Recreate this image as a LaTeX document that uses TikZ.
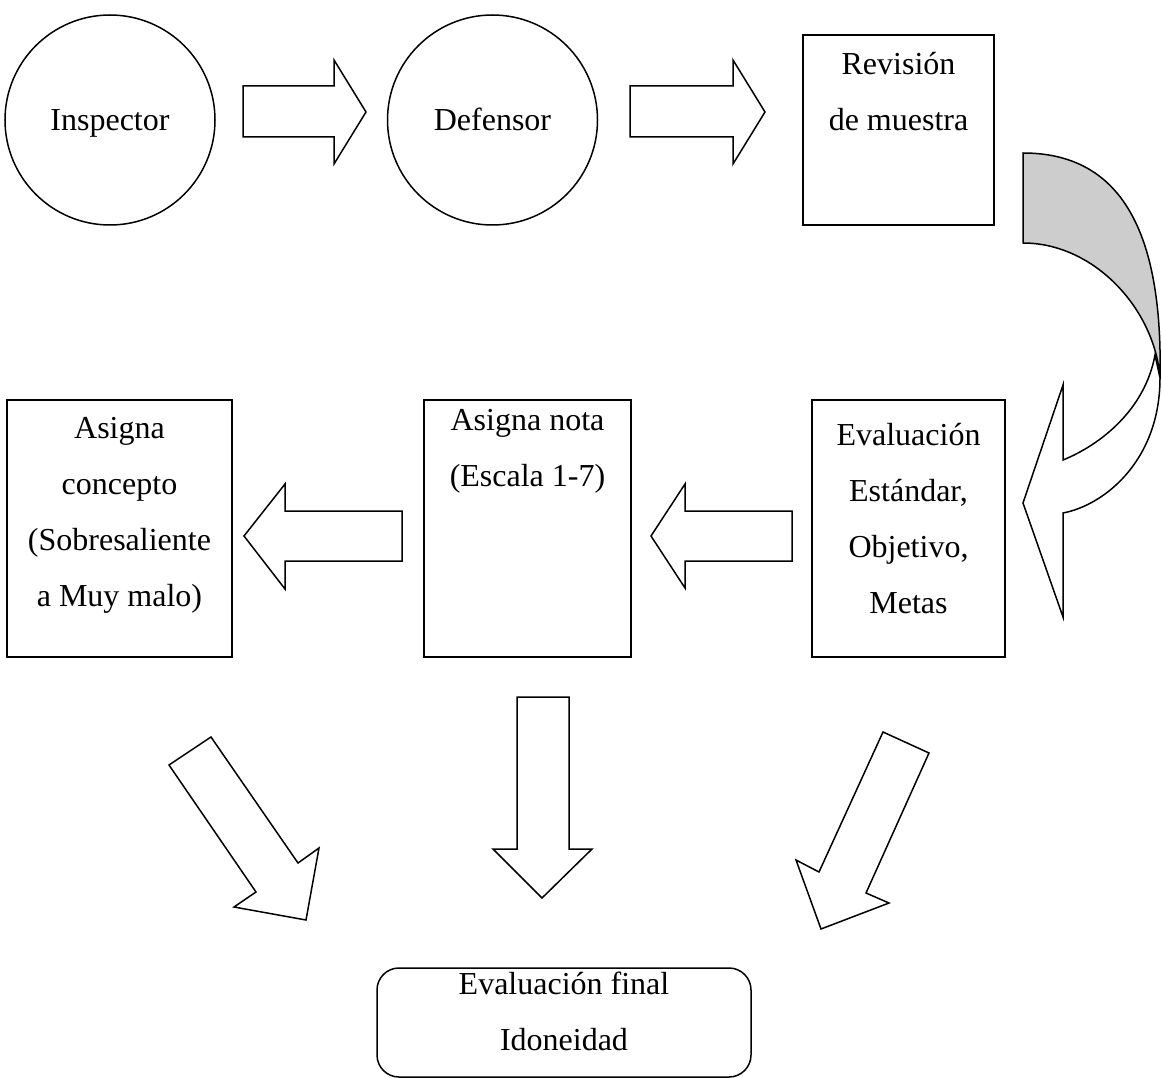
\documentclass[tikz,border=0pt]{standalone}
\usepackage{fontspec}
\setmainfont{Liberation Serif}
\definecolor{bandgray}{RGB}{205,205,205}
\begin{document}
\begin{tikzpicture}[x=1pt,y=-1pt,
  lw/.style={line width=1.5pt},
  circ/.style={draw,lw,circle,minimum size=210pt,inner sep=0pt,text height=28pt,text depth=7pt,font=\fontsize{32}{56}\selectfont},
  box/.style={draw,lw,rectangle,inner sep=0pt},
  txt/.style={align=center,inner sep=0pt,font=\fontsize{32}{56}\selectfont},
  blk/.style={draw,lw,fill=white,line join=miter}]
\useasboundingbox (0,0) rectangle (1162,1078);
\clip (0,0) rectangle (1162,1078);

% top row
\node[circ] (insp) at (110,120) {Inspector};
\node[circ] (def) at (492.5,120) {Defensor};
\node[box,minimum width=191pt,minimum height=190pt] (rev) at (898.5,130) {};
\node[txt] (revt) at (898.5,92) {Revisión\\de muestra};

\draw[blk] (243,86) -- (334,86) -- (334,60) -- (366,112) -- (334,164) -- (334,137) -- (243,137) -- cycle;
\draw[blk] (630,86) -- (733,86) -- (733,60) -- (765,112) -- (733,164) -- (733,137) -- (630,137) -- cycle;

% curved arrow
\draw[lw,fill=bandgray] (1023,153) .. controls (1120,153) and (1163,230) .. (1160,378)
  .. controls (1155,310) and (1095,243) .. (1023,243) -- cycle;
\draw[blk] (1155,355) .. controls (1145,410) and (1100,445) .. (1063,460)
  -- (1063,385) -- (1023,503) -- (1063,617) -- (1063,513)
  .. controls (1105,505) and (1160,460) .. (1160,378) -- cycle;

% middle row
\node[box,minimum width=225pt,minimum height=257pt] (conc) at (119.5,528.5) {};
\node[txt] (conct) at (119.5,515) {Asigna\\concepto\\(Sobresaliente\\a Muy malo)};
\node[box,minimum width=207pt,minimum height=257pt] (nota) at (527.5,528.5) {};
\node[txt] (notat) at (527.5,451) {Asigna nota\\(Escala 1-7)};
\node[box,minimum width=193pt,minimum height=257pt] (eval) at (908.5,528.5) {};
\node[txt] (evalt) at (908.5,519) {Evaluación\\Estándar,\\Objetivo,\\Metas};

\draw[blk] (792,511) -- (685,511) -- (685,484) -- (651,536) -- (685,588) -- (685,561) -- (792,561) -- cycle;
\draw[blk] (402,511) -- (285,511) -- (285,484) -- (244,536) -- (285,589) -- (285,561) -- (402,561) -- cycle;

% lower arrows
\draw[blk] (517,697) -- (569,697) -- (569,849) -- (592,849) -- (542,898) -- (493,849) -- (517,849) -- cycle;
\draw[blk] (169,765) -- (211,737) -- (298,863) -- (319,848) -- (306,920) -- (234,907) -- (256,892) -- cycle;
\draw[blk] (883,732) -- (929,753) -- (866,893) -- (889,903) -- (821,929) -- (796,860) -- (819,872) -- cycle;

% final box
\node[draw,lw,rounded corners=22pt,minimum width=374pt,minimum height=109pt,inner sep=0pt] (fin) at (564,1022.5) {};
\node[txt] (fint) at (564,1011) {Evaluación final\\Idoneidad};
\end{tikzpicture}
\end{document}
